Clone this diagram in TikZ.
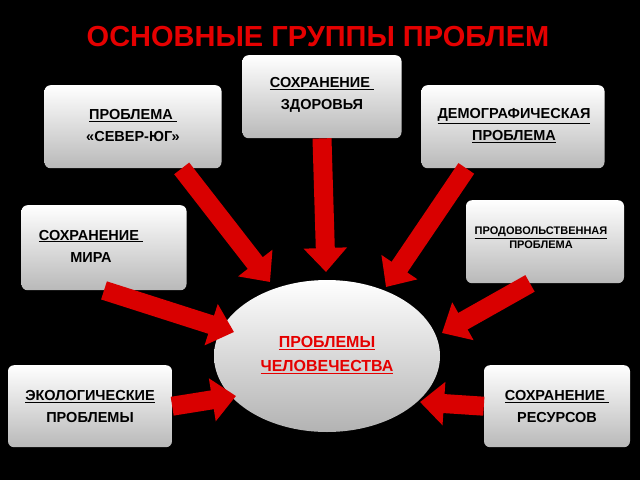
\documentclass[tikz,border=0pt]{standalone}
\usepackage{fontspec}
\setmainfont{Liberation Sans}
\usetikzlibrary{arrows.meta,shapes.geometric}
\tikzset{
  problembox/.style={rounded corners=6pt,top color=white,bottom color=gray!55,
    inner sep=0pt,anchor=north},
  fatarrow/.style={line width=19pt,red!85!black,
    -{Triangle[width=42pt,length=24pt]}}
}
\begin{document}
\begin{tikzpicture}[x=1pt,y=-1pt]
\fill[black] (0,0) rectangle (640,480);
\useasboundingbox (0,0) rectangle (640,480);
%Title
\node[text=red!90!black,font=\bfseries\fontsize{29}{32}\selectfont] (title) at (318,37) {ОСНОВНЫЕ ГРУППЫ ПРОБЛЕМ};
%Boxes
\node[problembox,minimum width=159,minimum height=83] (health) at (322,55) {};
\node[problembox,minimum width=177,minimum height=83] (northsouth) at (133,85) {};
\node[problembox,minimum width=183,minimum height=83] (demo) at (513,85) {};
\node[problembox,minimum width=165,minimum height=85] (peace) at (104,205) {};
\node[problembox,minimum width=158,minimum height=83] (food) at (545,200) {};
\node[problembox,minimum width=164,minimum height=82] (eco) at (90,365) {};
\node[problembox,minimum width=146,minimum height=82] (resources) at (557,365) {};
%Center
\node[ellipse,minimum width=226,minimum height=152,top color=white,bottom color=gray!60] (humanity) at (327,356) {};
%Arrows
\draw[fatarrow] (health.south) -- (326,272);
\draw[fatarrow] (northsouth.south east) ++(-40,0) -- (270,282);
\draw[fatarrow] (demo.south west) ++(45,0) -- (386,287);
\draw[fatarrow] (peace.south) -- (234,332);
\draw[fatarrow] (food.south) ++(-15,0) -- (442,333);
\draw[fatarrow] (eco.east) -- (236,396);
\draw[fatarrow] (resources.west) -- (420,402);
%Labels
\begin{scope}[every node/.style={align=center,font=\bfseries\fontsize{14.5}{22}\selectfont}]
\node (healthtext) at (322,95) {\underline{СОХРАНЕНИЕ }\\ЗДОРОВЬЯ};
\node (northsouthtext) at (133,126) {\underline{ПРОБЛЕМА }\\«СЕВЕР-ЮГ»};
\node (demotext) at (514,126) {\underline{ДЕМОГРАФИЧЕСКАЯ}\\\underline{ПРОБЛЕМА}};
\node (peacetext) at (91,246) {\underline{СОХРАНЕНИЕ }\\МИРА};
\node[font=\bfseries\fontsize{11}{14}\selectfont] (foodtext) at (541,238) {\underline{ПРОДОВОЛЬСТВЕННАЯ}\\ПРОБЛЕМА};
\node (ecotext) at (90,407) {\underline{ЭКОЛОГИЧЕСКИЕ}\\ПРОБЛЕМЫ};
\node (resourcestext) at (557,407) {\underline{СОХРАНЕНИЕ }\\РЕСУРСОВ};
\node[text=red!90!black,font=\bfseries\fontsize{16}{24}\selectfont] (humanitytext) at (327,355) {\underline{ПРОБЛЕМЫ}\\\underline{ЧЕЛОВЕЧЕСТВА}};
\end{scope}
\end{tikzpicture}
\end{document}
